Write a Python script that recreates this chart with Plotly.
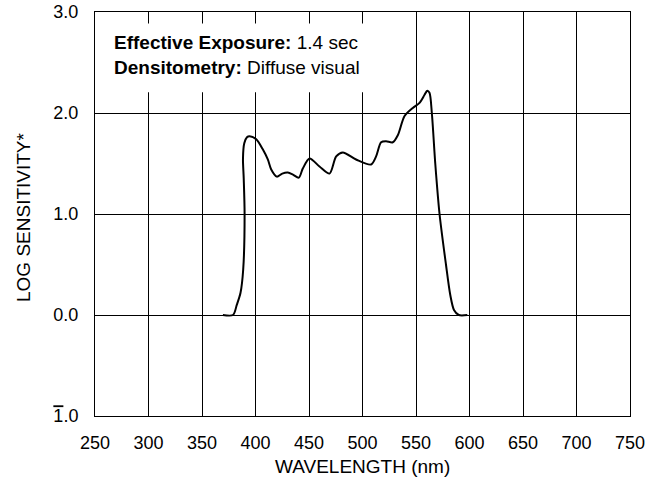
import plotly.graph_objects as go

# Data
wavelength = [369.5, 379, 382.5, 386, 388.5, 389.8, 389.0, 388.3, 389.5, 392, 394.5,
              400.7, 406.8, 411.5, 414.7, 419.9, 425, 430.2, 435, 440.5, 444.2, 450.5,
              459.8, 469.2, 475.4, 481.6, 494, 508, 512.7, 517.4, 522, 528.3, 533,
              539.3, 547, 553.3, 558, 560.5, 562.6, 564.8, 568, 572, 578, 582, 585.5,
              590, 598]
log_sens = [0.0, 0.0, 0.1, 0.22, 0.45, 1.0, 1.35, 1.55, 1.7, 1.76, 1.77,
            1.74, 1.64, 1.54, 1.44, 1.37, 1.40, 1.41, 1.39, 1.36, 1.45, 1.55,
            1.47, 1.40, 1.57, 1.61, 1.54, 1.49, 1.57, 1.71, 1.72, 1.71, 1.78,
            1.97, 2.05, 2.10, 2.18, 2.22, 2.20, 2.0, 1.5, 1.0, 0.5, 0.2, 0.05,
            0.0, 0.0]

x_ticks = [250, 300, 350, 400, 450, 500, 550, 600, 650, 700, 750]
y_ticks = [-1, 0, 1, 2, 3]
y_ticktext = ['<span style="text-decoration:overline">1</span>.0', "0.0", "1.0", "2.0", "3.0"]

x_title = "WAVELENGTH (nm)"
y_title = "LOG SENSITIVITY*"
info_lines = ["<b>Effective Exposure:</b> 1.4 sec", "<b>Densitometry:</b> Diffuse visual"]

FONT = "Liberation Sans, Arial, Helvetica, sans-serif"
W, H = 662, 484
ML, MR, MT, MB = 95, 32, 12, 68
PW, PH = W - ML - MR, H - MT - MB


def px_to_paper_x(px):
    return (px - ML) / PW


def px_to_paper_y(py):
    return 1 - (py - MT) / PH


fig = go.Figure()
fig.add_trace(go.Scatter(
    x=wavelength, y=log_sens, mode="lines",
    line=dict(color="black", width=2, shape="spline", smoothing=0.8),
    hoverinfo="skip", showlegend=False,
))

fig.update_layout(
    width=W, height=H,
    margin=dict(l=ML, r=MR, t=MT, b=MB, autoexpand=False),
    paper_bgcolor="white", plot_bgcolor="white",
    font=dict(family=FONT, size=18, color="black"),
    showlegend=False,
)

fig.update_xaxes(
    range=[250, 750], tickvals=x_ticks, ticktext=[str(v) for v in x_ticks],
    showgrid=True, gridcolor="black", gridwidth=1,
    showline=True, linecolor="black", linewidth=1, mirror=True,
    ticks="outside", ticklen=10, tickcolor="rgba(0,0,0,0)",
    zeroline=False, automargin=False,
)
fig.update_yaxes(
    range=[-1, 3], tickvals=y_ticks, ticktext=y_ticktext,
    showgrid=True, gridcolor="black", gridwidth=1,
    showline=True, linecolor="black", linewidth=1, mirror=True,
    ticks="outside", ticklen=12, tickcolor="rgba(0,0,0,0)",
    zeroline=False, automargin=False,
)

# axis titles
fig.add_annotation(xref="paper", yref="paper", x=0.5, y=px_to_paper_y(467),
                   xanchor="center", yanchor="middle", showarrow=False,
                   text=x_title, font=dict(size=19))
fig.add_annotation(xref="paper", yref="paper", x=px_to_paper_x(23), y=px_to_paper_y(217),
                   xanchor="center", yanchor="middle", showarrow=False, textangle=-90,
                   text=y_title, font=dict(size=19))

# white box behind the info text (covers gridlines)
fig.add_shape(type="rect", xref="x", yref="y", x0=251, x1=506.5, y0=2.205, y1=2.886,
              fillcolor="white", line=dict(width=0), layer="above")

for txt, yc in zip(info_lines, [43, 67]):
    fig.add_annotation(xref="paper", yref="paper", x=px_to_paper_x(112), y=px_to_paper_y(yc),
                       xanchor="left", yanchor="middle", showarrow=False,
                       text=txt, font=dict(size=19, color="black"), align="left")

fig.write_html("out.html", config={"displayModeBar": False},
               post_script="document.body.style.margin='0px';")
